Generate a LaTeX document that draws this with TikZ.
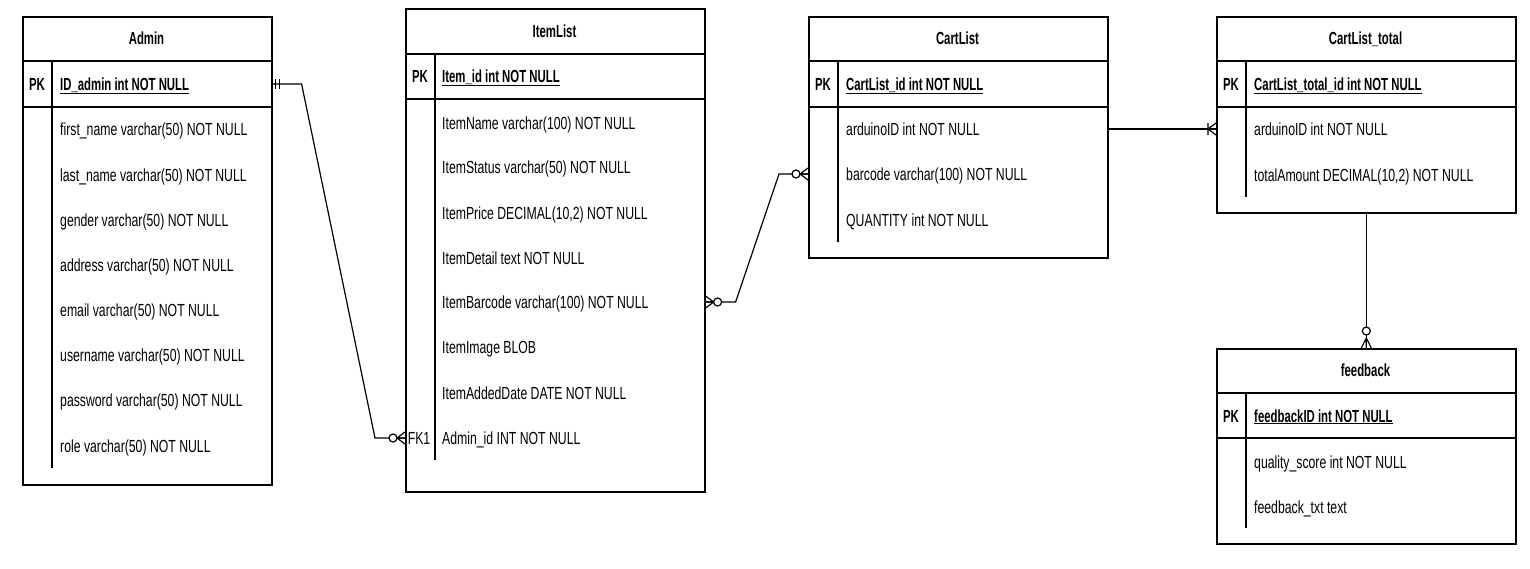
\documentclass[tikz,border=0pt]{standalone}
\usepackage{fontspec}
\setmainfont{Liberation Sans}[FakeStretch=0.7, BoldFeatures={FakeStretch=0.65}]
\usetikzlibrary{calc}
\newcommand\erfont{\fontsize{17.5}{20}\selectfont}
\newcommand\erZeroMany[2]{%
  \begin{scope}[shift={(#1)}, rotate=#2]
    \draw[conn] (-8,0) -- (0,6) (-8,0) -- (0,-6) (-8,0) -- (0,0);
    \draw[conn, fill=white] (-12,0) circle (4);
  \end{scope}}
\newcommand\erZeroManyV[2]{%
  \begin{scope}[shift={(#1)}, rotate=#2]
    \draw[conn] (-10,0) -- (0,5) (-10,0) -- (0,-5) (-10,0) -- (0,0);
    \draw[conn, fill=white] (-17,0) circle (4);
  \end{scope}}
\newcommand\erOneMany[2]{%
  \begin{scope}[shift={(#1)}, rotate=#2]
    \draw[conn] (-8,0) -- (0,6) (-8,0) -- (0,-6) (-8,-6) -- (-8,6);
  \end{scope}}
\newcommand\erOneOne[2]{%
  \begin{scope}[shift={(#1)}, rotate=#2]
    \draw[conn] (-3,-5) -- (-3,5) (-7,-5) -- (-7,5);
  \end{scope}}
\begin{document}
\begin{tikzpicture}[x=1pt, y=-1pt, font=\erfont,
  tbl/.style={draw, line width=1.6pt, rectangle, inner sep=0pt, anchor=north west},
  sep/.style={line width=1.6pt},
  fld/.style={anchor=base west, inner sep=0pt},
  pkfld/.style={anchor=base west, inner sep=0pt, font=\erfont\bfseries},
  pkl/.style={anchor=base, inner sep=0pt, font=\erfont\bfseries},
  ttl/.style={anchor=base, inner sep=0pt, font=\erfont\bfseries},
  conn/.style={line width=1.2pt, line join=miter}]
\useasboundingbox (0,0) rectangle (1530,568);

% ---------------- Admin ----------------
\node[tbl, minimum width=249pt, minimum height=468pt] (admin) at (22,16) {};
\draw[sep] (22,61) -- (271,61);
\draw[sep] (22,107) -- (271,107);
\draw[sep] (52,61) -- (52,468);
\node[ttl] (adminT) at (146.5,44) {Admin};
\node[pkl] (adminPKk) at (37,90) {PK};
\node[pkfld] (adminPK) at (60,90) {\underline{ID\_admin int NOT NULL}};
\node[fld] (adminF1) at (60,135) {first\_name varchar(50) NOT NULL};
\node[fld] (adminF2) at (60,181) {last\_name varchar(50) NOT NULL};
\node[fld] (adminF3) at (60,226) {gender varchar(50) NOT NULL};
\node[fld] (adminF4) at (60,271) {address varchar(50) NOT NULL};
\node[fld] (adminF5) at (60,316) {email varchar(50) NOT NULL};
\node[fld] (adminF6) at (60,361) {username varchar(50) NOT NULL};
\node[fld] (adminF7) at (60,406) {password varchar(50) NOT NULL};
\node[fld] (adminF8) at (60,452) {role varchar(50) NOT NULL};

% ---------------- ItemList ----------------
\node[tbl, minimum width=299pt, minimum height=483pt] (item) at (405,8) {};
\draw[sep] (405,54) -- (704,54);
\draw[sep] (405,99) -- (704,99);
\draw[sep] (435,54) -- (435,460);
\node[ttl] (itemT) at (554.5,37) {ItemList};
\node[pkl] (itemPKk) at (420,82) {PK};
\node[pkfld] (itemPK) at (442,82) {\underline{Item\_id int NOT NULL}};
\node[fld] (itemF1) at (442,129) {ItemName varchar(100) NOT NULL};
\node[fld] (itemF2) at (442,173) {ItemStatus varchar(50) NOT NULL};
\node[fld] (itemF3) at (442,219) {ItemPrice DECIMAL(10,2) NOT NULL};
\node[fld] (itemF4) at (442,264) {ItemDetail text NOT NULL};
\node[fld] (itemF5) at (442,308) {ItemBarcode varchar(100) NOT NULL};
\node[fld] (itemF6) at (442,353) {ItemImage BLOB};
\node[fld] (itemF7) at (442,399) {ItemAddedDate DATE NOT NULL};
\node[pkl, font=\erfont] (itemFKk) at (419,444) {FK1};
\node[fld] (itemF8) at (442,444) {Admin\_id INT NOT NULL};

% ---------------- CartList ----------------
\node[tbl, minimum width=299pt, minimum height=241pt] (cart) at (808,16) {};
\draw[sep] (808,61) -- (1107,61);
\draw[sep] (808,107) -- (1107,107);
\draw[sep] (838,61) -- (838,242);
\node[ttl] (cartT) at (957.5,44) {CartList};
\node[pkl] (cartPKk) at (823,90) {PK};
\node[pkfld] (cartPK) at (846,90) {\underline{CartList\_id int NOT NULL}};
\node[fld] (cartF1) at (846,135) {arduinoID int NOT NULL};
\node[fld] (cartF2) at (846,180) {barcode varchar(100) NOT NULL};
\node[fld] (cartF3) at (846,226) {QUANTITY int NOT NULL};

% ---------------- CartList_total ----------------
\node[tbl, minimum width=299pt, minimum height=196pt] (ct) at (1216,16) {};
\draw[sep] (1216,61) -- (1515,61);
\draw[sep] (1216,107) -- (1515,107);
\draw[sep] (1246,61) -- (1246,197);
\node[ttl] (ctT) at (1365.5,44) {CartList\_total};
\node[pkl] (ctPKk) at (1231,90) {PK};
\node[pkfld] (ctPK) at (1254,90) {\underline{CartList\_total\_id int NOT NULL}};
\node[fld] (ctF1) at (1254,135) {arduinoID int NOT NULL};
\node[fld] (ctF2) at (1254,181) {totalAmount DECIMAL(10,2) NOT NULL};

% ---------------- feedback ----------------
\node[tbl, minimum width=299pt, minimum height=195pt] (fb) at (1216,348) {};
\draw[sep] (1216,393) -- (1515,393);
\draw[sep] (1216,438) -- (1515,438);
\draw[sep] (1246,393) -- (1246,528);
\node[ttl] (fbT) at (1365.5,376) {feedback};
\node[pkl] (fbPKk) at (1231,422) {PK};
\node[pkfld] (fbPK) at (1254,422) {\underline{feedbackID int NOT NULL}};
\node[fld] (fbF1) at (1254,468) {quality\_score int NOT NULL};
\node[fld] (fbF2) at (1254,513) {feedback\_txt text};

% ---------------- connectors ----------------
\coordinate (yA) at (0,84);
\coordinate (yFK) at (0,438);
\coordinate (yBar) at (0,302);
\coordinate (yCart) at (0,174);
\coordinate (yArd) at (0,129);

\coordinate (adminR) at (admin.east |- yA);
\coordinate (itemFK) at (item.west |- yFK);
\coordinate (itemR) at (item.east |- yBar);
\coordinate (cartL) at (cart.west |- yCart);
\coordinate (cartR) at (cart.east |- yArd);
\coordinate (ctL) at (ct.west |- yArd);

\draw[conn] (adminR) -- ++(29,0) -- ($(itemFK)+(-30,0)$) -- (itemFK);
\draw[conn] (itemR) -- ++(30,0) -- ($(cartL)+(-29,0)$) -- (cartL);
\draw[conn] (cartR) -- (ctL);
\draw[conn] (ct.south) -- (fb.north);

\erOneOne{adminR}{180}
\erZeroMany{itemFK}{0}
\erZeroMany{itemR}{180}
\erZeroMany{cartL}{0}
\erOneMany{ctL}{0}
\erZeroManyV{fb.north}{-90}
\end{tikzpicture}
\end{document}
